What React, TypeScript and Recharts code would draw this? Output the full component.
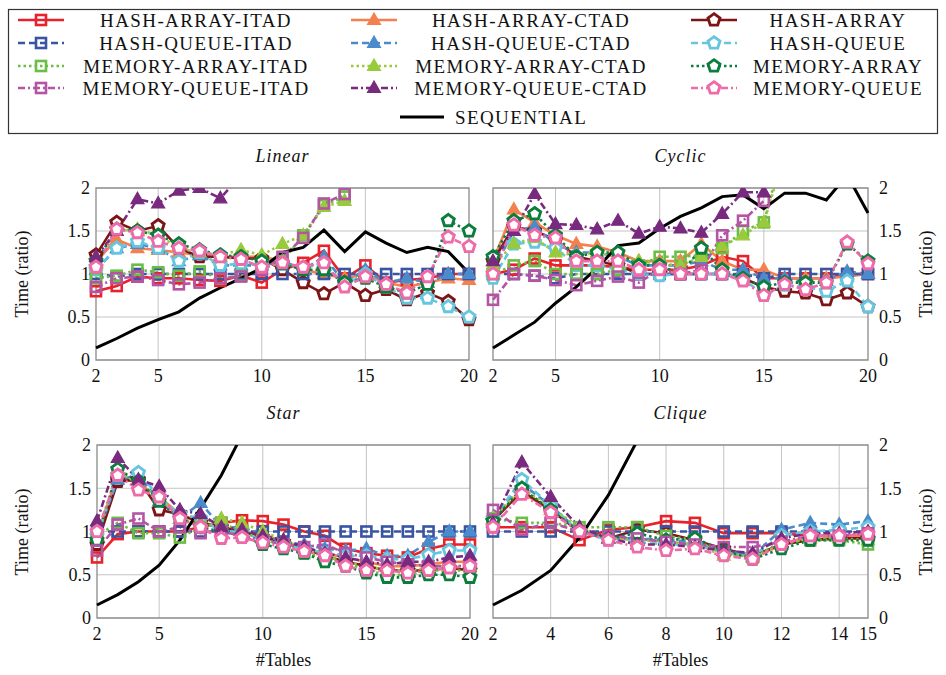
import React from "react";
import {
  CartesianGrid,
  Line,
  LineChart,
  ReferenceArea,
  XAxis,
  YAxis,
} from "recharts";

// x positions (number of tables)
const X_TO_20 = [2, 3, 4, 5, 6, 7, 8, 9, 10, 11, 12, 13, 14, 15, 16, 17, 18, 19, 20];
const X_TO_15 = [2, 3, 4, 5, 6, 7, 8, 9, 10, 11, 12, 13, 14, 15];
const TICKS_20 = [2, 5, 10, 15, 20];
const TICKS_15 = [2, 4, 6, 8, 10, 12, 14, 15];
const Y_TICKS = [0, 0.5, 1, 1.5, 2];

// ---- Linear ----
const linHashArrayItad = [0.8, 0.86, 0.97, 0.95, 0.95, 0.93, 0.92, 0.98, 0.9, 1.05, 1.13, 1.27, 0.95, 1.1, 0.9, 0.93, 0.95, 1.0, 1.0];
const linHashArrayCtad = [1.15, 1.4, 1.3, 1.28, 1.25, 1.22, 1.2, 1.2, 1.2, 1.15, 1.05, 1.0, 0.95, 1.0, 0.9, 0.85, 0.9, 0.95, 0.93];
const linHashArray = [1.22, 1.6, 1.5, 1.56, 1.3, 1.2, 1.2, 1.18, 1.18, 1.05, 0.9, 0.77, 0.9, 0.75, 0.82, 0.7, 0.78, 0.68, 0.47];
const linHashQueueItad = [1.0, 0.97, 1.0, 1.0, 1.0, 1.0, 1.0, 1.0, 1.0, 1.0, 1.0, 1.0, 1.0, 1.0, 1.0, 1.0, 1.0, 1.0, 1.0];
const linHashQueueCtad = [1.05, 1.3, 1.35, 1.3, 1.15, 1.22, 1.1, 1.1, 1.1, 1.15, 1.05, 1.2, 0.9, 1.05, 0.9, 0.95, 0.9, 1.0, 1.0];
const linHashQueue = [1.05, 1.3, 1.38, 1.3, 1.15, 1.25, 1.1, 1.12, 1.1, 1.12, 1.07, 1.12, 0.88, 1.0, 0.85, 0.72, 0.72, 0.62, 0.5];
const linMemArrayItad = [0.95, 0.98, 1.05, 1.02, 0.98, 1.03, 0.95, 0.98, 1.05, 1.15, 1.45, 1.8, 1.9, null, null, null, null, null, null];
const linMemArrayCtad = [1.1, 1.5, 1.52, 1.45, 1.3, 1.25, 1.22, 1.28, 1.22, 1.35, 1.45, 1.78, 1.85, null, null, null, null, null, null];
const linMemArray = [1.15, 1.52, 1.5, 1.45, 1.35, 1.28, 1.22, 1.2, 1.15, 1.12, 1.05, 1.05, 0.9, 0.95, 0.85, 0.78, 0.88, 1.62, 1.5];
const linMemQueueItad = [0.85, 0.95, 0.97, 0.93, 0.88, 0.9, 0.95, 0.97, 1.05, 1.2, 1.42, 1.82, 1.93, null, null, null, null, null, null];
const linMemQueueCtad = [1.2, 1.5, 1.87, 1.82, 1.97, 2.0, 1.88, 2.15, null, null, null, null, null, null, null, null, null, null, null];
const linMemQueue = [1.08, 1.52, 1.48, 1.38, 1.3, 1.27, 1.2, 1.17, 1.08, 1.13, 1.08, 1.13, 0.85, 0.97, 0.88, 0.78, 0.97, 1.43, 1.32];
const linSequential = [0.14, 0.25, 0.37, 0.47, 0.56, 0.72, 0.84, 0.95, 1.07, 1.25, 1.31, 1.51, 1.26, 1.49, 1.36, 1.25, 1.31, 1.26, 1.01];

// ---- Cyclic ----
const cycHashArrayItad = [1.0, 1.05, 1.18, 1.1, 1.1, 1.1, 1.08, 1.05, 1.05, 1.05, 1.1, 1.2, 1.15, 0.95, 0.95, 0.95, 0.95, 1.0, 1.0];
const cycHashArrayCtad = [1.15, 1.75, 1.6, 1.45, 1.35, 1.32, 1.25, 1.15, 1.15, 1.15, 1.35, 1.15, 1.05, 1.05, 0.95, 0.95, 0.95, 0.97, 1.0];
const cycHashArray = [1.15, 1.55, 1.5, 1.4, 1.2, 1.15, 1.1, 1.0, 1.0, 1.0, 1.0, 1.0, 0.95, 0.85, 0.8, 0.78, 0.7, 0.78, 0.62];
const cycHashQueueItad = [1.0, 1.0, 0.98, 0.95, 1.0, 1.0, 1.0, 1.0, 1.0, 1.0, 1.0, 1.0, 1.0, 0.95, 1.0, 1.0, 1.0, 1.0, 1.0];
const cycHashQueueCtad = [1.05, 1.5, 1.55, 1.35, 1.25, 1.25, 1.2, 1.1, 1.1, 1.1, 1.15, 1.05, 1.05, 0.95, 0.95, 0.9, 0.92, 1.03, 1.0];
const cycHashQueue = [0.95, 1.35, 1.37, 1.3, 1.1, 1.1, 1.05, 1.0, 0.98, 1.0, 1.0, 1.0, 0.95, 0.75, 0.87, 0.85, 0.8, 0.92, 0.62];
const cycMemArrayItad = [1.0, 1.1, 1.15, 1.0, 1.0, 1.0, 1.05, 1.1, 1.2, 1.2, 1.22, 1.3, 1.5, 1.6, 2.5, null, null, null, null];
const cycMemArrayCtad = [1.1, 1.35, 1.42, 1.25, 1.22, 1.25, 1.2, 1.15, 1.12, 1.1, 1.2, 1.32, 1.45, 1.6, 2.4, null, null, null, null];
const cycMemArray = [1.2, 1.62, 1.7, 1.45, 1.2, 1.25, 1.25, 1.1, 1.1, 1.0, 1.3, 1.05, 0.95, 0.85, 0.9, 0.9, 0.9, 1.35, 1.15];
const cycMemQueueItad = [0.7, 1.0, 0.98, 0.93, 0.87, 0.92, 0.97, 0.9, 1.05, 1.0, 1.05, 1.45, 1.62, 1.85, null, null, null, null, null];
const cycMemQueueCtad = [1.15, 1.5, 1.93, 1.58, 1.57, 1.52, 1.62, 1.47, 1.55, 1.53, 1.48, 1.7, 1.95, 1.95, null, null, null, null, null];
const cycMemQueue = [1.0, 1.57, 1.45, 1.42, 1.15, 1.15, 1.15, 1.05, 1.05, 1.0, 1.0, 1.0, 0.92, 0.75, 0.88, 0.82, 0.9, 1.37, 1.12];
const cycSequential = [0.14, 0.29, 0.44, 0.66, 0.85, 1.07, 1.33, 1.36, 1.53, 1.67, 1.77, 1.9, 1.92, 1.76, 1.94, 1.94, 1.86, 2.15, 1.71];

// ---- Star ----
const starHashArrayItad = [0.7, 0.97, 1.0, 1.0, 1.0, 1.05, 1.1, 1.13, 1.12, 1.08, 1.0, 0.95, 0.8, 0.75, 0.72, 0.7, 0.8, 0.85, 0.85];
const starHashArrayCtad = [0.95, 1.65, 1.55, 1.4, 1.2, 1.1, 1.05, 1.0, 0.95, 0.9, 0.8, 0.75, 0.7, 0.65, 0.6, 0.6, 0.62, 0.65, 0.65];
const starHashArray = [0.85, 1.58, 1.6, 1.25, 1.2, 1.1, 1.05, 1.0, 0.93, 0.88, 0.8, 0.72, 0.65, 0.6, 0.55, 0.55, 0.55, 0.58, 0.55];
const starHashQueueItad = [1.0, 1.0, 1.0, 1.0, 1.0, 1.0, 1.0, 1.0, 1.0, 1.0, 1.0, 1.0, 1.0, 1.0, 1.0, 1.0, 1.0, 1.0, 1.0];
const starHashQueueCtad = [0.95, 1.6, 1.65, 1.35, 1.15, 1.33, 1.05, 1.05, 0.95, 0.88, 0.85, 0.8, 0.78, 0.8, 0.72, 0.72, 0.88, 1.0, 1.0];
const starHashQueue = [0.95, 1.65, 1.68, 1.4, 1.2, 1.15, 1.0, 1.0, 0.9, 0.85, 0.8, 0.75, 0.72, 0.72, 0.68, 0.68, 0.73, 0.78, 0.78];
const starMemArrayItad = [0.95, 1.1, 0.98, 0.98, 0.93, 1.05, 1.1, 1.0, 0.9, 0.85, 0.75, 0.7, 0.65, 0.55, 0.5, 0.5, 0.55, 0.55, 0.55];
const starMemArrayCtad = [0.95, 1.7, 1.55, 1.4, 1.15, 1.1, 1.15, 1.1, 1.0, 0.9, 0.8, 0.72, 0.65, 0.6, 0.55, 0.55, 0.58, 0.6, 0.6];
const starMemArray = [0.9, 1.72, 1.58, 1.35, 1.15, 1.05, 1.0, 0.95, 0.85, 0.8, 0.75, 0.65, 0.6, 0.52, 0.47, 0.47, 0.5, 0.5, 0.47];
const starMemQueueItad = [0.78, 1.08, 1.15, 1.0, 1.05, 0.98, 1.0, 0.95, 0.9, 0.85, 0.82, 0.85, 0.75, 0.7, 0.65, 0.62, 0.6, 0.6, 0.6];
const starMemQueueCtad = [1.12, 1.85, 1.6, 1.52, 1.25, 1.2, 1.05, 1.02, 0.95, 0.9, 0.82, 0.75, 0.7, 0.65, 0.62, 0.65, 0.65, 0.7, 0.72];
const starMemQueue = [1.0, 1.65, 1.48, 1.4, 1.15, 1.05, 0.92, 0.93, 0.87, 0.82, 0.77, 0.72, 0.6, 0.55, 0.55, 0.52, 0.55, 0.58, 0.6];
const starSequential = [0.15, 0.27, 0.42, 0.61, 0.9, 1.27, 1.65, 2.12, 2.8, null, null, null, null, null, null, null, null, null, null];

// ---- Clique ----
const cliHashArrayItad = [1.05, 1.05, 1.05, 0.9, 1.02, 1.05, 1.12, 1.1, 0.98, 0.98, 0.98, 0.95, 0.95, 0.95];
const cliHashArrayCtad = [1.15, 1.45, 1.25, 1.0, 0.92, 0.92, 0.88, 0.85, 0.78, 0.7, 0.85, 0.95, 0.95, 0.95];
const cliHashArray = [1.12, 1.47, 1.25, 1.0, 0.92, 1.02, 0.98, 0.9, 0.8, 0.72, 0.85, 0.9, 0.92, 0.92];
const cliHashQueueItad = [1.0, 1.0, 1.0, 1.0, 1.0, 1.0, 1.0, 1.0, 1.0, 1.0, 1.0, 1.0, 1.0, 1.0];
const cliHashQueueCtad = [1.15, 1.55, 1.3, 1.0, 0.92, 0.92, 0.9, 0.88, 0.78, 0.72, 1.02, 1.1, 1.08, 1.12];
const cliHashQueue = [1.15, 1.6, 1.3, 1.0, 0.9, 0.88, 0.85, 0.85, 0.75, 0.72, 0.95, 1.0, 1.02, 1.05];
const cliMemArrayItad = [1.15, 1.1, 1.1, 1.05, 1.05, 1.05, 0.95, 0.9, 0.75, 0.7, 0.88, 0.9, 0.9, 0.85];
const cliMemArrayCtad = [1.15, 1.5, 1.28, 1.05, 0.92, 0.9, 0.88, 0.85, 0.72, 0.7, 0.85, 0.92, 0.92, 0.9];
const cliMemArray = [1.12, 1.5, 1.25, 1.0, 0.92, 0.98, 0.9, 0.92, 0.78, 0.68, 0.8, 0.9, 0.9, 0.9];
const cliMemQueueItad = [1.25, 1.02, 1.1, 1.0, 0.95, 0.92, 0.88, 0.85, 0.82, 0.82, 0.88, 0.95, 0.95, 0.98];
const cliMemQueueCtad = [1.1, 1.8, 1.4, 1.05, 0.92, 0.85, 0.85, 0.82, 0.78, 0.75, 0.92, 0.98, 0.98, 1.0];
const cliMemQueue = [1.05, 1.43, 1.22, 1.0, 0.9, 0.82, 0.78, 0.8, 0.72, 0.68, 0.85, 0.95, 0.95, 0.97];
const cliSequential = [0.15, 0.32, 0.55, 0.93, 1.42, 2.05, null, null, null, null, null, null, null, null];

type Marker = "square" | "triangle" | "pentagon" | "none";

const SERIES: { name: string; color: string; marker: Marker; dash?: string }[] = [
  { name: "HASH-ARRAY-ITAD", color: "#e8222b", marker: "square" },
  { name: "HASH-ARRAY-CTAD", color: "#f3804e", marker: "triangle" },
  { name: "HASH-ARRAY", color: "#7d1517", marker: "pentagon" },
  { name: "HASH-QUEUE-ITAD", color: "#3a54a4", marker: "square", dash: "7 4" },
  { name: "HASH-QUEUE-CTAD", color: "#4a8ccb", marker: "triangle", dash: "7 4" },
  { name: "HASH-QUEUE", color: "#67c6df", marker: "pentagon", dash: "7 4" },
  { name: "MEMORY-ARRAY-ITAD", color: "#6abd45", marker: "square", dash: "2.5 3" },
  { name: "MEMORY-ARRAY-CTAD", color: "#98ca3c", marker: "triangle", dash: "2.5 3" },
  { name: "MEMORY-ARRAY", color: "#0c7d3d", marker: "pentagon", dash: "2.5 3" },
  { name: "MEMORY-QUEUE-ITAD", color: "#b454a5", marker: "square", dash: "7 3 2 3" },
  { name: "MEMORY-QUEUE-CTAD", color: "#782a7f", marker: "triangle", dash: "7 3 2 3" },
  { name: "MEMORY-QUEUE", color: "#ef6aa8", marker: "pentagon", dash: "7 3 2 3" },
  { name: "SEQUENTIAL", color: "#000000", marker: "none" },
];

const PANELS = [
  {
    title: "Linear", xs: X_TO_20, ticks: TICKS_20, side: "left" as const,
    box: { x0: 96, x1: 469, y0: 188, y1: 360 }, xLabel: false,
    values: [linHashArrayItad, linHashArrayCtad, linHashArray, linHashQueueItad, linHashQueueCtad, linHashQueue,
      linMemArrayItad, linMemArrayCtad, linMemArray, linMemQueueItad, linMemQueueCtad, linMemQueue, linSequential],
  },
  {
    title: "Cyclic", xs: X_TO_20, ticks: TICKS_20, side: "right" as const,
    box: { x0: 493, x1: 868, y0: 188, y1: 360 }, xLabel: false,
    values: [cycHashArrayItad, cycHashArrayCtad, cycHashArray, cycHashQueueItad, cycHashQueueCtad, cycHashQueue,
      cycMemArrayItad, cycMemArrayCtad, cycMemArray, cycMemQueueItad, cycMemQueueCtad, cycMemQueue, cycSequential],
  },
  {
    title: "Star", xs: X_TO_20, ticks: TICKS_20, side: "left" as const,
    box: { x0: 97, x1: 470, y0: 445, y1: 618 }, xLabel: true,
    values: [starHashArrayItad, starHashArrayCtad, starHashArray, starHashQueueItad, starHashQueueCtad, starHashQueue,
      starMemArrayItad, starMemArrayCtad, starMemArray, starMemQueueItad, starMemQueueCtad, starMemQueue, starSequential],
  },
  {
    title: "Clique", xs: X_TO_15, ticks: TICKS_15, side: "right" as const,
    box: { x0: 493, x1: 868, y0: 445, y1: 618 }, xLabel: true,
    values: [cliHashArrayItad, cliHashArrayCtad, cliHashArray, cliHashQueueItad, cliHashQueueCtad, cliHashQueue,
      cliMemArrayItad, cliMemArrayCtad, cliMemArray, cliMemQueueItad, cliMemQueueCtad, cliMemQueue, cliSequential],
  },
];

const FONT = "'Liberation Serif', 'DejaVu Serif', serif";

function MarkerShape({ marker, color, cx, cy }: { marker: Marker; color: string; cx: number; cy: number }) {
  if (marker === "square") {
    return <rect x={cx - 5} y={cy - 5} width={10} height={10} fill="none" stroke={color} strokeWidth={2.6} />;
  }
  if (marker === "triangle") {
    const pts = `${cx},${cy - 7} ${cx - 6.5},${cy + 4.5} ${cx + 6.5},${cy + 4.5}`;
    return <polygon points={pts} fill={color} stroke={color} strokeWidth={1.2} strokeLinejoin="miter" />;
  }
  if (marker === "pentagon") {
    const r = 6.3;
    const pts = [0, 1, 2, 3, 4]
      .map((k) => {
        const a = ((-90 + k * 72) * Math.PI) / 180;
        return `${cx + r * Math.cos(a)},${cy + r * Math.sin(a)}`;
      })
      .join(" ");
    return <polygon points={pts} fill="#ffffff" stroke={color} strokeWidth={2.9} strokeLinejoin="miter" />;
  }
  return null;
}

function makeDot(marker: Marker, color: string) {
  return (props: any) => {
    const { cx, cy, value, index } = props;
    if (cx == null || cy == null || value == null || Number.isNaN(cy)) return <g key={index} />;
    return (
      <g key={index}>
        <MarkerShape marker={marker} color={color} cx={cx} cy={cy} />
      </g>
    );
  };
}

function Panel({ panel }: { panel: (typeof PANELS)[number] }) {
  const { x0, x1, y0, y1 } = panel.box;
  const yAxisW = 45;
  const width = x1 - x0 + 120;
  const height = y1 - y0 + 20 + 30;
  const left = x0 - 60;
  const top = y0 - 20;
  const rows = panel.xs.map((x, i) => {
    const row: Record<string, number | null> = { x };
    panel.values.forEach((vals, s) => {
      row[`s${s}`] = vals[i];
    });
    return row;
  });
  const xMax = panel.xs[panel.xs.length - 1];
  const tickStyle = { fontFamily: FONT, fontSize: 18, fill: "#111" };

  return (
    <div style={{ position: "absolute", left, top }}>
      <LineChart
        width={width}
        height={height}
        data={rows}
        margin={{
          top: 20,
          bottom: 0,
          left: panel.side === "left" ? 60 - yAxisW : 60,
          right: panel.side === "right" ? 60 - yAxisW : 60,
        }}
      >
        <CartesianGrid stroke="#c4c4c4" strokeWidth={1} horizontalValues={[0.5, 1, 1.5]} verticalValues={panel.ticks.filter((t) => t !== 2 && t !== xMax)} />
        <XAxis
          dataKey="x"
          type="number"
          domain={[2, xMax]}
          ticks={panel.ticks}
          interval={0}
          height={30}
          axisLine={false}
          tickLine={false}
          tickSize={4}
          tickMargin={5}
          tick={tickStyle}
        />
        <YAxis
          type="number"
          orientation={panel.side}
          domain={[0, 2]}
          allowDataOverflow
          ticks={Y_TICKS}
          width={yAxisW}
          axisLine={false}
          tickLine={false}
          tickSize={4}
          tickMargin={panel.side === "right" ? 7 : 2}
          tick={tickStyle}
          tickFormatter={(v: number) => String(v)}
        />
        <ReferenceArea x1={2} x2={xMax} y1={0} y2={2} fill="none" stroke="#8a8a8a" strokeWidth={1.3} ifOverflow="extendDomain" />
        {SERIES.map((s, i) => (
          <Line
            key={s.name}
            dataKey={`s${i}`}
            name={s.name}
            stroke={s.color}
            strokeWidth={s.marker === "none" ? 3 : 2.6}
            strokeDasharray={s.dash}
            dot={s.marker === "none" ? false : makeDot(s.marker, s.color)}
            activeDot={false}
            connectNulls={false}
            isAnimationActive={false}
          />
        ))}
      </LineChart>
    </div>
  );
}

function LegendBox() {
  const markerX = [18, 351, 691];
  const textX = [196, 531, 838];
  const rowY = [20, 43, 66, 88];
  return (
    <svg width={946} height={140} style={{ position: "absolute", left: 0, top: 0 }}>
      <rect x={8.5} y={9.5} width={929} height={124} fill="#fff" stroke="#333" strokeWidth={1.2} />
      {SERIES.map((s, i) => {
        const isSeq = s.marker === "none";
        const row = Math.floor(i / 3);
        const col = i % 3;
        const mx = isSeq ? 400 : markerX[col];
        const my = isSeq ? 117 : rowY[row];
        const mw = isSeq ? 44 : 46;
        return (
          <g key={s.name}>
            <line x1={mx} x2={mx + mw} y1={my} y2={my} stroke={s.color} strokeWidth={isSeq ? 3 : 2.6} strokeDasharray={s.dash} />
            <MarkerShape marker={s.marker} color={s.color} cx={mx + mw / 2} cy={my} />
            <text
              x={isSeq ? 455 : textX[col]}
              y={my}
              textAnchor={isSeq ? "start" : "middle"}
              dominantBaseline="central"
              fontFamily={FONT}
              fontSize={19}
              letterSpacing={1.4}
              fill="#111"
            >
              {s.name}
            </text>
          </g>
        );
      })}
    </svg>
  );
}

const labelStyle: React.CSSProperties = {
  position: "absolute",
  fontFamily: FONT,
  fontSize: 18,
  color: "#111",
  whiteSpace: "nowrap",
};

export default function App() {
  return (
    <div style={{ position: "absolute", left: 0, top: 0, width: 946, height: 675, background: "#fff", overflow: "hidden" }}>
      <LegendBox />
      {PANELS.map((p) => (
        <Panel key={p.title} panel={p} />
      ))}
      {PANELS.map((p) => (
        <div
          key={p.title + "-t"}
          style={{ ...labelStyle, fontStyle: "italic", left: (p.box.x0 + p.box.x1) / 2, top: p.box.y0 - 42, transform: "translateX(-50%)", letterSpacing: 1 }}
        >
          {p.title}
        </div>
      ))}
      {PANELS.filter((p) => p.xLabel).map((p) => (
        <div key={p.title + "-x"} style={{ ...labelStyle, left: (p.box.x0 + p.box.x1) / 2, top: 650, transform: "translateX(-50%)" }}>
          #Tables
        </div>
      ))}
      {PANELS.map((p) => (
        <div
          key={p.title + "-y"}
          style={{
            ...labelStyle,
            left: p.side === "left" ? 22 : 926,
            top: (p.box.y0 + p.box.y1) / 2,
            transform: "translate(-50%, -50%) rotate(-90deg)",
          }}
        >
          Time (ratio)
        </div>
      ))}
    </div>
  );
}
